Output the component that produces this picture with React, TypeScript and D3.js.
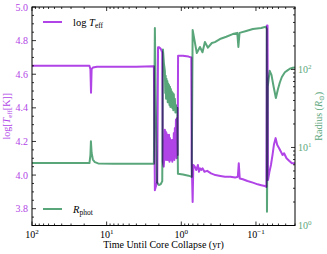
import React, { useEffect, useRef } from 'react';
import * as d3 from 'd3';

// [time until collapse (yr), log Teff]
const TEFF_POINTS: [number, number][] = [
  [100, 4.65], [40, 4.65], [17, 4.65], [16.5, 4.63], [16.2, 4.49], [15.9, 4.63], [15.3, 4.64],
  [13.5, 4.645], [8, 4.645], [4, 4.645], [2.33, 4.648],
  [2.26, 3.91], [2.2, 3.93], [2.1, 3.96], [2.05, 4.76], [1.97, 4.76], [1.88, 4.75], [1.8, 4.73],
  [1.77, 4.08], [1.72, 4.05], [1.68, 4.12],
  [1.66, 4.27], [1.64, 4.12], [1.62, 4.26], [1.6, 4.09], [1.58, 4.25], [1.56, 4.11], [1.54, 4.24],
  [1.52, 4.09], [1.5, 4.23], [1.48, 4.1], [1.46, 4.24], [1.44, 4.08], [1.42, 4.22], [1.4, 4.09],
  [1.38, 4.21], [1.36, 4.1], [1.34, 4.19], [1.32, 4.08], [1.3, 4.21], [1.28, 4.1], [1.26, 4.25],
  [1.24, 4.09], [1.22, 4.28], [1.2, 4.11], [1.18, 4.33], [1.16, 4.1], [1.14, 4.34], [1.12, 4.12],
  [1.105, 4.71], [0.95, 4.71], [0.8, 4.705], [0.735, 4.7],
  [0.725, 4.07], [0.705, 3.84], [0.69, 4.06], [0.66, 4.05], [0.63, 4.03], [0.6, 4.06], [0.58, 4.02],
  [0.56, 4.04], [0.54, 4.03], [0.52, 4.04], [0.49, 4.02], [0.45, 4.025], [0.4, 4.01], [0.35, 4.0],
  [0.3, 3.995], [0.26, 3.99], [0.22, 3.99], [0.19, 3.985], [0.175, 3.99], [0.17, 4.07], [0.165, 3.98],
  [0.15, 3.975], [0.13, 3.965], [0.11, 3.955], [0.095, 3.945], [0.085, 3.94], [0.076, 3.935], [0.0725, 3.93],
  [0.0712, 4.89], [0.07, 4.89], [0.069, 3.97], [0.066, 4.02], [0.063, 4.06], [0.06, 4.12], [0.0575, 4.18],
  [0.0545, 4.22], [0.052, 4.18], [0.049, 4.16], [0.0465, 4.14], [0.044, 4.12], [0.042, 4.13],
  [0.039, 4.1], [0.036, 4.085], [0.033, 4.07], [0.03, 4.07],
];

// [time until collapse (yr), photospheric radius (Rsun)]
const RADIUS_POINTS: [number, number][] = [
  [100, 6.3], [40, 6.3], [17, 6.3], [16.5, 8], [16.25, 12], [15.9, 8.5], [15.3, 7.0], [14.4, 6.5],
  [13, 6.25], [8, 6.2], [4, 6.2], [2.33, 6.2],
  [2.26, 340], [2.2, 40], [2.12, 3.6], [2.0, 3.3], [1.88, 3.4], [1.8, 3.7], [1.76, 180], [1.71, 120],
  [1.66, 95], [1.64, 50], [1.62, 83], [1.6, 42], [1.58, 76], [1.56, 45], [1.54, 71], [1.52, 38],
  [1.5, 66], [1.48, 40], [1.46, 63], [1.44, 35], [1.42, 60], [1.4, 33], [1.38, 56], [1.36, 35],
  [1.34, 52], [1.32, 32], [1.3, 50], [1.28, 30], [1.26, 48], [1.24, 32], [1.22, 42], [1.2, 28],
  [1.18, 35], [1.16, 30], [1.13, 32],
  [1.11, 4.6], [0.95, 4.5], [0.8, 4.35], [0.725, 4.2],
  [0.705, 320], [0.62, 162], [0.563, 194], [0.52, 166], [0.483, 225], [0.44, 190], [0.39, 218],
  [0.355, 224], [0.304, 245], [0.25, 262], [0.205, 284], [0.178, 294], [0.172, 194], [0.166, 294],
  [0.135, 311], [0.11, 330], [0.085, 340], [0.074, 352], [0.0718, 330],
  [0.0712, 1.5], [0.0695, 60], [0.0655, 96], [0.062, 85], [0.058, 60], [0.0541, 43], [0.051, 55],
  [0.0479, 68], [0.045, 80], [0.041, 92], [0.0374, 98], [0.0352, 102], [0.0321, 105], [0.03, 106],
];

const TEFF_TICKS = [3.8, 4.0, 4.2, 4.4, 4.6, 4.8, 5.0];
const TEFF_TICK_LABELS = ['3.8', '4.0', '4.2', '4.4', '4.6', '4.8', '5.0'];
const TIME_TICKS = [100, 10, 1, 0.1];
const TIME_TICK_EXPONENTS = ['2', '1', '0', '\u22121'];
const RADIUS_TICKS = [1, 10, 100];
const RADIUS_TICK_EXPONENTS = ['0', '1', '2'];

const PURPLE = '#b144e6';
const GREEN = '#5aa67b';
const FONT = '"Liberation Serif", "DejaVu Serif", serif';

export default function App() {
  const svgRef = useRef<SVGSVGElement>(null);

  useEffect(() => {
    const svg = d3.select(svgRef.current);
    svg.selectAll('*').remove();

    const width = 327;
    const height = 254;
    const margin = { top: 7, right: 32, bottom: 28.5, left: 32 };
    const x0 = margin.left, x1 = width - margin.right;
    const y0 = height - margin.bottom, y1 = margin.top;

    const x = d3.scaleLog().domain([100, 0.03]).range([x0, x1]);
    const yT = d3.scaleLinear().domain([3.7, 5.0]).range([y0, y1]);
    const yR = d3.scaleLog().domain([1, Math.pow(10, 2.8)]).range([y0, y1]);

    svg.append('clipPath').attr('id', 'plot-clip')
      .append('rect').attr('x', x0).attr('y', y1).attr('width', x1 - x0).attr('height', y0 - y1);

    const teffLine = d3.line<[number, number]>().x(d => x(d[0])).y(d => yT(d[1]));
    const radLine = d3.line<[number, number]>().x(d => x(d[0])).y(d => yR(d[1]));

    const g = svg.append('g').attr('clip-path', 'url(#plot-clip)');
    g.append('path').datum(TEFF_POINTS)
      .attr('fill', 'none').attr('stroke', PURPLE).attr('stroke-width', 2)
      .attr('stroke-linejoin', 'round').attr('d', teffLine);
    g.append('path').datum(RADIUS_POINTS)
      .attr('fill', 'none').attr('stroke', GREEN).attr('stroke-width', 2)
      .attr('stroke-linejoin', 'round').style('mix-blend-mode', 'multiply').attr('d', radLine);

    // frame
    svg.append('rect').attr('x', x0).attr('y', y1).attr('width', x1 - x0).attr('height', y0 - y1)
      .attr('fill', 'none').attr('stroke', '#000').attr('stroke-width', 1);

    const ticks = svg.append('g').attr('stroke', '#000').attr('stroke-width', 0.8);

    // left axis ticks (inward)
    d3.range(3.7, 5.0001, 0.05).forEach(v => {
      const major = TEFF_TICKS.some(t => Math.abs(t - v) < 1e-6);
      const len = major ? 4 : 2;
      ticks.append('line').attr('x1', x0).attr('x2', x0 + len).attr('y1', yT(v)).attr('y2', yT(v));
    });
    TEFF_TICKS.forEach((v, i) => {
      svg.append('text').attr('x', x0 - 4).attr('y', yT(v) + 3.5)
        .attr('text-anchor', 'end').attr('fill', PURPLE)
        .style('font-family', FONT).style('font-size', '10px').text(TEFF_TICK_LABELS[i]);
    });

    // right axis ticks (log radius)
    yR.ticks().forEach(v => {
      const major = RADIUS_TICKS.includes(v);
      const len = major ? 4 : 2;
      ticks.append('line').attr('x1', x1).attr('x2', x1 - len).attr('y1', yR(v)).attr('y2', yR(v));
    });
    RADIUS_TICKS.forEach((v, i) => {
      const t = svg.append('text').attr('x', x1 + 3).attr('y', yR(v) + 3.5)
        .attr('fill', GREEN).style('font-family', FONT).style('font-size', '10px');
      t.append('tspan').text('10');
      t.append('tspan').attr('dy', -4).style('font-size', '7px').text(RADIUS_TICK_EXPONENTS[i]);
    });

    // bottom and top ticks (log time)
    x.ticks().forEach(v => {
      const major = TIME_TICKS.some(t => Math.abs(t - v) / t < 1e-6);
      const len = major ? 4 : 2;
      ticks.append('line').attr('x1', x(v)).attr('x2', x(v)).attr('y1', y0).attr('y2', y0 - len);
      ticks.append('line').attr('x1', x(v)).attr('x2', x(v)).attr('y1', y1).attr('y2', y1 + len);
    });
    TIME_TICKS.forEach((v, i) => {
      const t = svg.append('text').attr('x', x(v)).attr('y', y0 + 12)
        .attr('text-anchor', 'middle').attr('fill', '#000')
        .style('font-family', FONT).style('font-size', '10px');
      t.append('tspan').text('10');
      t.append('tspan').attr('dy', -4).style('font-size', '7px').text(TIME_TICK_EXPONENTS[i]);
    });

    // axis titles
    svg.append('text').attr('x', (x0 + x1) / 2).attr('y', 247.5)
      .attr('text-anchor', 'middle').attr('fill', '#000')
      .style('font-family', FONT).style('font-size', '10px')
      .text('Time Until Core Collapse (yr)');

    const yl = svg.append('text').attr('transform', `translate(10,${(y0 + y1) / 2}) rotate(-90)`)
      .attr('text-anchor', 'middle').attr('fill', PURPLE)
      .style('font-family', FONT).style('font-size', '10px');
    yl.append('tspan').text('log[');
    yl.append('tspan').style('font-style', 'italic').text('T');
    yl.append('tspan').attr('dy', 2).style('font-size', '7px').text('eff');
    yl.append('tspan').attr('dy', -2).text('[K]]');

    const yr = svg.append('text').attr('transform', `translate(322,${(y0 + y1) / 2}) rotate(-90)`)
      .attr('text-anchor', 'middle').attr('fill', GREEN)
      .style('font-family', FONT).style('font-size', '10px');
    yr.append('tspan').text('Radius (');
    yr.append('tspan').style('font-style', 'italic').text('R');
    yr.append('tspan').attr('dy', 2).style('font-size', '7px').text('\u2299');
    yr.append('tspan').attr('dy', -2).text(')');

    // legend
    const legend = [
      { y: 22, color: PURPLE, pre: 'log ', main: 'T', sub: 'eff' },
      { y: 209, color: GREEN, pre: '', main: 'R', sub: 'phot' },
    ];
    legend.forEach(l => {
      svg.append('line').attr('x1', 43).attr('x2', 62).attr('y1', l.y).attr('y2', l.y)
        .attr('stroke', l.color).attr('stroke-width', 2);
      const t = svg.append('text').attr('x', 73).attr('y', l.y + 3.5).attr('fill', '#000')
        .style('font-family', FONT).style('font-size', '10.5px');
      if (l.pre) t.append('tspan').text(l.pre);
      t.append('tspan').style('font-style', 'italic').text(l.main);
      t.append('tspan').attr('dy', 2).style('font-size', '7.5px').text(l.sub);
    });
  }, []);

  return (
    <svg
      ref={svgRef}
      width={327}
      height={254}
      style={{ position: 'absolute', left: 0, top: 0, background: '#fff' }}
    />
  );
}
